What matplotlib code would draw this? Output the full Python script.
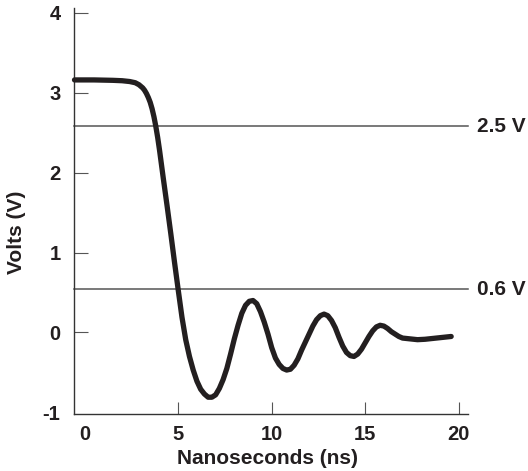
#imports
import matplotlib
matplotlib.use("Agg")
from matplotlib import pyplot as plt

#data (time in ns, voltage in V)
time_ns = [-0.55, 0.5, 1.5, 2.0, 2.4, 2.7, 2.9, 3.1, 3.2, 3.3, 3.4, 3.5, 3.6, 3.7,
           3.8, 3.9, 4.0, 4.2, 4.4, 4.6, 4.8, 5.0, 5.2, 5.4, 5.6, 5.8, 6.0, 6.2,
           6.4, 6.6, 6.8, 7.0, 7.2, 7.4, 7.6, 7.8, 8.0, 8.2, 8.4, 8.6, 8.8, 9.0,
           9.2, 9.4, 9.6, 9.8, 10.0, 10.2, 10.4, 10.6, 10.8, 11.0, 11.2, 11.4, 11.6,
           11.8, 12.0, 12.2, 12.4, 12.6, 12.8, 13.0, 13.2, 13.4, 13.6, 13.8, 14.0,
           14.2, 14.4, 14.6, 14.8, 15.0, 15.2, 15.4, 15.6, 15.8, 16.0, 16.2, 16.4,
           16.6, 16.8, 17.0, 17.4, 17.8, 18.2, 18.6, 19.0, 19.6]
volts = [3.16, 3.16, 3.155, 3.15, 3.14, 3.125, 3.10, 3.06, 3.03, 2.99, 2.94, 2.88, 2.80, 2.70,
         2.58, 2.44, 2.28, 1.93, 1.59, 1.24, 0.88, 0.53, 0.19, -0.09, -0.30, -0.47, -0.61, -0.71,
         -0.77, -0.81, -0.81, -0.78, -0.70, -0.59, -0.45, -0.27, -0.08, 0.09, 0.24, 0.34, 0.39, 0.40,
         0.36, 0.26, 0.13, -0.02, -0.19, -0.32, -0.40, -0.45, -0.47, -0.46, -0.41, -0.33, -0.22,
         -0.12, -0.02, 0.08, 0.16, 0.21, 0.23, 0.21, 0.15, 0.06, -0.06, -0.17, -0.25,
         -0.29, -0.30, -0.27, -0.21, -0.13, -0.05, 0.02, 0.07, 0.09, 0.08, 0.05, 0.01,
         -0.02, -0.05, -0.07, -0.08, -0.09, -0.085, -0.075, -0.065, -0.05]

#threshold lines and their labels
threshold_levels = [2.58, 0.54]
threshold_labels = ["2.5 V", "0.6 V"]

x_ticks = [0, 5, 10, 15, 20]
y_ticks = [-1, 0, 1, 2, 3, 4]

ink = "#231f20"
plt.rcParams['font.family'] = ['Liberation Sans', 'DejaVu Sans']
plt.rcParams['font.weight'] = 'bold'
plt.rcParams['axes.unicode_minus'] = False

fig = plt.figure(figsize=(5.28, 4.71), dpi=100)
ax = fig.add_axes([74.3/528, 1 - 414/471, (468 - 74.3)/528, (414 - 8)/471])

x_left, x_right = -0.56, 20.5
ax.set_xlim(x_left, x_right)
ax.set_ylim(-1.02, 4.06)

#threshold lines
for level, label in zip(threshold_levels, threshold_labels):
    ax.plot([x_left, x_right], [level, level], color="#555555", lw=1.1, clip_on=False, zorder=1)
    ax.annotate(label, xy=(x_right, level), xytext=(6.5, 0), textcoords="offset points",
                ha="left", va="center", fontsize=15, fontweight="bold", color=ink,
                annotation_clip=False)

#the signal
ax.plot(time_ns, volts, color=ink, lw=3.8, solid_joinstyle="round",
        solid_capstyle="round", clip_on=False, zorder=3)

#spines and ticks
for side in ["top", "right"]:
    ax.spines[side].set_visible(False)
for side in ["left", "bottom"]:
    ax.spines[side].set_color("#333333")
    ax.spines[side].set_linewidth(1.0)

ax.set_xticks(x_ticks)
ax.set_yticks(y_ticks)
ax.tick_params(axis="x", direction="in", length=8.6, width=0.8, color="#555555",
               pad=8, labelsize=14.5, labelcolor=ink)
ax.tick_params(axis="y", direction="in", length=10, width=0.8, color="#555555",
               pad=10, labelsize=14.5, labelcolor=ink)
#no tick marks at the corner
ax.xaxis.get_major_ticks()[0].tick1line.set_visible(False)
ax.yaxis.get_major_ticks()[0].tick1line.set_visible(False)

#axis titles
fig.text(267.5/528, 1 - 458/471, "Nanoseconds (ns)", ha="center", va="center",
         fontsize=15, fontweight="bold", color=ink)
fig.text(17/528, 1 - 232/471, "Volts (V)", ha="center", va="center", rotation=90,
         fontsize=15, fontweight="bold", color=ink)

fig.savefig("out.png", dpi=100)
